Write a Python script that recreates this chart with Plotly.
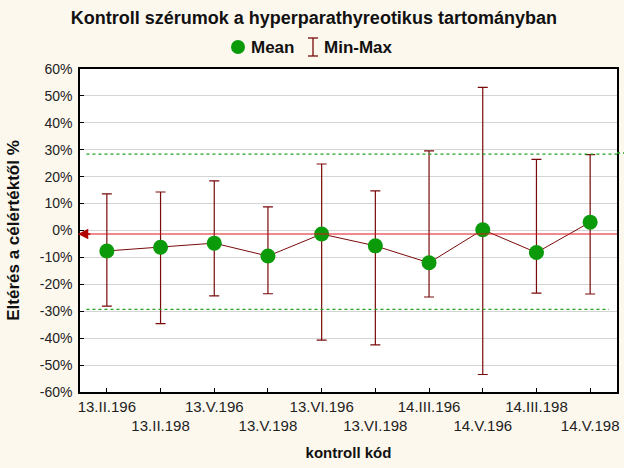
import plotly.graph_objects as go

categories = ["13.II.196", "13.II.198", "13.V.196", "13.V.198", "13.VI.196",
              "13.VI.198", "14.III.196", "14.V.196", "14.III.198", "14.V.198"]
mean_vals = [-7.6, -6.2, -4.7, -9.5, -1.3, -5.7, -12.0, 0.3, -8.2, 3.1]
max_vals = [13.6, 14.3, 18.4, 8.8, 24.7, 14.7, 29.6, 53.2, 26.4, 28.2]
min_vals = [-28.1, -34.6, -24.3, -23.5, -40.7, -42.5, -24.7, -53.5, -23.3, -23.6]
target_line = -1.3
upper_limit = 28.4
lower_limit = -29.3
ytick_vals = list(range(-60, 61, 10))
legend_labels = ["Mean", "Min-Max"]

xs = list(range(len(categories)))
tick_text = [c if i % 2 == 0 else "<br>" + c for i, c in enumerate(categories)]

err_plus = [mx - m for mx, m in zip(max_vals, mean_vals)]
err_minus = [m - mn for mn, m in zip(min_vals, mean_vals)]

DARKRED = "#7A0A0A"
GREEN = "#0A9A0A"
FONT = "Liberation Sans"

W, H = 624, 468
ML, MR, MT, MB = 80, 7, 69, 76
PW, PH = W - ML - MR, H - MT - MB


def px(x):
    return (x - ML) / PW


def py(y):
    return (H - MB - y) / PH


fig = go.Figure()
fig.add_trace(go.Scatter(
    x=xs, y=mean_vals, mode="lines+markers", showlegend=False,
    line=dict(color=DARKRED, width=1),
    marker=dict(color=GREEN, size=15, line=dict(width=0)),
    error_y=dict(type="data", array=err_plus, arrayminus=err_minus,
                 color=DARKRED, thickness=1.2, width=5),
))

# reference lines
fig.add_shape(type="line", xref="paper", x0=0, x1=1, y0=target_line, y1=target_line,
              line=dict(color="#E0141E", width=1.2))
fig.add_shape(type="line", xref="paper", x0=0.012, x1=1.0, y0=upper_limit, y1=upper_limit,
              line=dict(color="#22A022", width=1.2, dash="dot"))
fig.add_shape(type="line", xref="paper", x0=1.0, x1=1.013, y0=upper_limit + 0.4, y1=upper_limit + 0.4,
              line=dict(color="#22A022", width=1.6, dash="dot"))
fig.add_shape(type="line", xref="paper", x0=0.012, x1=0.985, y0=lower_limit, y1=lower_limit,
              line=dict(color="#22A022", width=1.2, dash="dot"))
fig.add_annotation(xref="paper", yref="y", x=-0.004, y=target_line, ax=14, ay=0,
                   showarrow=True, arrowhead=2, arrowsize=1.6, arrowwidth=1.3,
                   arrowcolor="#B00000", text="")

# legend (drawn manually to match compact layout)
LY = 47
fig.add_shape(type="circle", xref="paper", yref="paper",
              x0=px(231), x1=px(245), y0=py(LY + 7), y1=py(LY - 7),
              fillcolor=GREEN, line=dict(color=GREEN, width=0))
fig.add_annotation(xref="paper", yref="paper", x=px(249), y=py(LY), xanchor="left",
                   yanchor="middle", showarrow=False, text="<b>" + legend_labels[0] + "</b>",
                   font=dict(family=FONT, size=17, color="#111111"))
fig.add_shape(type="line", xref="paper", yref="paper", x0=px(313), x1=px(313),
              y0=py(LY - 9), y1=py(LY + 9), line=dict(color=DARKRED, width=1.3))
fig.add_shape(type="line", xref="paper", yref="paper", x0=px(308), x1=px(318),
              y0=py(LY - 9), y1=py(LY - 9), line=dict(color=DARKRED, width=1.3))
fig.add_shape(type="line", xref="paper", yref="paper", x0=px(308), x1=px(318),
              y0=py(LY + 9), y1=py(LY + 9), line=dict(color=DARKRED, width=1.3))
fig.add_annotation(xref="paper", yref="paper", x=px(322), y=py(LY), xanchor="left",
                   yanchor="middle", showarrow=False, text="<b>" + legend_labels[1] + "</b>",
                   font=dict(family=FONT, size=17, color="#111111"))

fig.update_layout(
    width=W, height=H, showlegend=False,
    paper_bgcolor="#FDF8EE", plot_bgcolor="#FFFFFF",
    margin=dict(l=ML, r=MR, t=MT, b=MB, autoexpand=False),
    title=dict(text="<b>Kontroll szérumok a hyperparathyreotikus tartományban</b>",
               x=0.503, xanchor="center", y=0.962, yanchor="middle",
               font=dict(family=FONT, size=18, color="#111111")),
    font=dict(family=FONT, size=14, color="#222222"),
    xaxis=dict(range=[-0.5, 9.5], tickvals=xs, ticktext=tick_text, showgrid=False,
               tickangle=0, automargin=False,
               zeroline=False, showline=True, linecolor="#000000", linewidth=1.5, mirror=True,
               ticks="inside", ticklen=4, tickcolor="#000000",
               tickfont=dict(family=FONT, size=15, color="#222222"),
               title=dict(text="<b>kontroll kód</b>", font=dict(family=FONT, size=15, color="#111111"),
                          standoff=14)),
    yaxis=dict(range=[-60, 60], tickvals=ytick_vals,
               ticktext=[f"{v}%" for v in ytick_vals], automargin=False,
               showgrid=True, gridcolor="#D4D4D4", gridwidth=1, zeroline=False,
               showline=True, linecolor="#000000", linewidth=1.5, mirror=True,
               ticks="inside", ticklen=4, tickcolor="#000000", ticklabelstandoff=3,
               tickfont=dict(family=FONT, size=14, color="#222222"),
               title=dict(text="<b>Eltérés a célértéktől %</b>",
                          font=dict(family=FONT, size=17, color="#111111"), standoff=16)),
)

fig.write_html("out.html")
